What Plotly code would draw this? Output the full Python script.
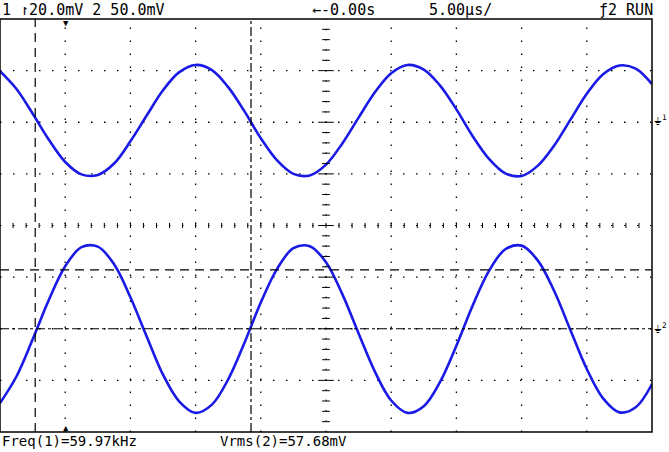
import plotly.graph_objects as go

# time axis in divisions (0.25 div steps, 5.00us/div)
t_div = [i * 0.25 for i in range(41)]

# channel 1 (20.0 mV/div), in divisions from bottom
ch1 = [6.99, 6.65, 6.17, 5.66, 5.23, 4.99, 4.98, 5.20, 5.63, 6.13, 6.62, 6.97, 7.11, 7.01,
       6.68, 6.21, 5.69, 5.26, 5.00, 4.97, 5.18, 5.59, 6.09, 6.58, 6.95, 7.11, 7.02, 6.71,
       6.25, 5.73, 5.29, 5.01, 4.96, 5.16, 5.55, 6.05, 6.55, 6.93, 7.10, 7.04, 6.74]

# channel 2 (50.0 mV/div)
ch2 = [0.56, 1.07, 1.79, 2.56, 3.21, 3.58, 3.59, 3.25, 2.61, 1.85, 1.11, 0.59, 0.37, 0.53,
       1.02, 1.73, 2.51, 3.16, 3.56, 3.60, 3.29, 2.67, 1.91, 1.17, 0.61, 0.37, 0.50, 0.97,
       1.67, 2.45, 3.12, 3.54, 3.61, 3.32, 2.73, 1.97, 1.22, 0.65, 0.38, 0.48, 0.93]

blue = '#1a1ae6'
mono = 'DejaVu Sans Mono'

fig = go.Figure()
fig.add_trace(go.Scatter(x=t_div, y=ch1, mode='lines', line=dict(color=blue, width=2.6, shape='spline')))
fig.add_trace(go.Scatter(x=t_div, y=ch2, mode='lines', line=dict(color=blue, width=2.6, shape='spline')))

shapes = []
grid_dot = dict(color='black', width=1.3, dash='1.5px,11.5px')
for gx in range(1, 10):
    if gx != 5:
        shapes.append(dict(type='line', x0=gx, x1=gx, y0=0, y1=8, line=grid_dot, layer='below'))
for gy in range(1, 8):
    if gy != 4:
        shapes.append(dict(type='line', x0=0, x1=10, y0=gy, y1=gy, line=grid_dot, layer='below'))

# centre axes with minor ticks
shapes.append(dict(type='line', x0=5, x1=5, y0=0, y1=8, line=dict(color='black', width=1, dash='1.5px,8.8px')))
shapes.append(dict(type='line', x0=0, x1=10, y0=4, y1=4, line=dict(color='black', width=1, dash='1.5px,11.5px')))
for k in range(1, 40):
    yy = k * 0.2
    w = 0.12 if k % 5 == 0 else 0.06
    shapes.append(dict(type='line', x0=5 - w, x1=5 + w, y0=yy, y1=yy, line=dict(color='black', width=1)))
for k in range(1, 50):
    xx = k * 0.2
    shapes.append(dict(type='line', x0=xx, x1=xx, y0=4 - 0.05, y1=4 + 0.05, line=dict(color='black', width=1)))

# cursors
shapes.append(dict(type='line', x0=0.54, x1=0.54, y0=0, y1=8, line=dict(color='black', width=1.2, dash='9px,6px')))
shapes.append(dict(type='line', x0=3.85, x1=3.85, y0=0, y1=8, line=dict(color='black', width=1.2, dash='dashdot')))
shapes.append(dict(type='line', x0=0, x1=10, y0=3.14, y1=3.14, line=dict(color='black', width=1.2, dash='9px,6px')))
shapes.append(dict(type='line', x0=0, x1=10, y0=2.0, y1=2.0, line=dict(color='black', width=1.2, dash='dashdot')))
# screen frame
shapes.append(dict(type='rect', xref='paper', yref='paper', x0=0, x1=1, y0=0, y1=1,
                   line=dict(color='black', width=1.5)))


def txt(x, y, s, xanchor='left', size=15):
    return dict(x=x, y=y, xref='paper', yref='paper', text=s, showarrow=False, xanchor=xanchor,
                yanchor='middle', font=dict(family=mono, size=size, color='black'))


annotations = [
    txt(0.0, 1.022, '1 ↾20.0mV 2 50.0mV'),
    txt(0.475, 1.022, '←-0.00s'),
    txt(0.655, 1.022, '5.00µs/'),
    txt(1.005, 1.022, 'ƒ2 RUN', xanchor='right'),
    txt(0.0, -0.022, 'Freq(1)=59.97kHz', size=14),
    txt(0.335, -0.022, 'Vrms(2)=57.68mV', size=14),
    txt(0.101, 0.99, '▼', xanchor='center', size=9),
    txt(0.101, 0.01, '▲', xanchor='center', size=9),
    txt(1.0, 6.03 / 8, '⏚<sup>1</sup>', size=11),
    txt(1.0, 2.0 / 8, '⏚<sup>2</sup>', size=11),
]

fig.update_layout(width=669, height=452, margin=dict(l=0, r=17, t=19, b=20, autoexpand=False),
                  paper_bgcolor='white', plot_bgcolor='white', showlegend=False,
                  shapes=shapes, annotations=annotations)
fig.update_xaxes(range=[0, 10], showgrid=False, zeroline=False, showticklabels=False,
                 showline=False, ticks='')
fig.update_yaxes(range=[0, 8], showgrid=False, zeroline=False, showticklabels=False,
                 showline=False, ticks='')

fig.write_html("out.html", config={'displayModeBar': False},
               post_script="document.body.style.margin='0';")
